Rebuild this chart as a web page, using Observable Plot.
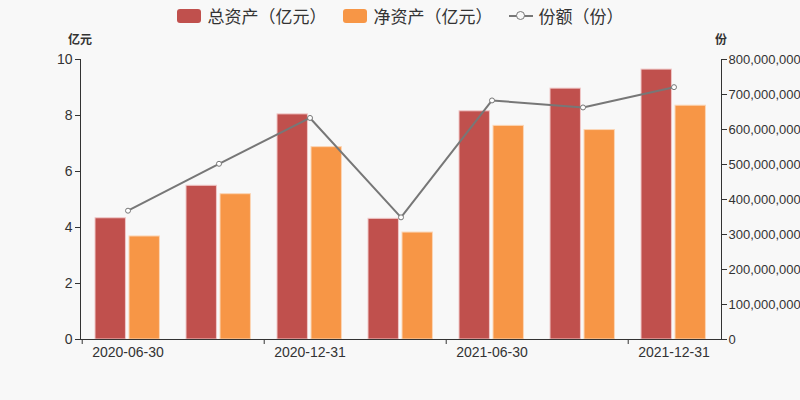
<!DOCTYPE html>
<html><head><meta charset="utf-8">
<script src="https://cdn.jsdelivr.net/npm/d3@7"></script>
<script src="https://cdn.jsdelivr.net/npm/@observablehq/plot@0.6"></script>
<style>
body{margin:0;background:#f8f8f8;}
#wrap{position:relative;width:800px;height:400px;font-family:"Liberation Sans","Noto Sans CJK SC",sans-serif;color:#333;overflow:hidden;}
#legend{position:absolute;top:3px;left:0;width:800px;display:flex;justify-content:center;align-items:center;font-family:"Noto Sans CJK SC",sans-serif;font-size:17px;color:#333;}
.item{display:flex;align-items:center;margin:0 8px;}
.sw{width:24px;height:14px;border-radius:3px;margin-right:7px;}
.ln{position:relative;width:24px;height:14px;margin-right:6px;}
.ln:before{content:"";position:absolute;left:0;right:0;top:6px;height:2px;background:#777;}
.ln:after{content:"";position:absolute;left:7px;top:2px;width:7px;height:7px;border:1.5px solid #777;border-radius:50%;background:#f8f8f8;}
.atitle{position:absolute;top:30px;font-family:"Noto Sans CJK SC",sans-serif;font-size:12px;font-weight:bold;color:#333;transform:translateX(-50%);}
svg{position:absolute;left:0;top:0;}
</style></head><body>
<div id="wrap">
<div id="legend"></div>
</div>
<script>
const dates = ["2020-06-30","2020-09-30","2020-12-31","2021-03-31","2021-06-30","2021-09-30","2021-12-31"];
const totalAssets = [4.33, 5.49, 8.04, 4.31, 8.15, 8.96, 9.64];
const netAssets = [3.68, 5.19, 6.87, 3.82, 7.63, 7.48, 8.35];
const shares = [368e6, 502e6, 633e6, 349e6, 683e6, 663e6, 721e6];
const yTicks = [0, 2, 4, 6, 8, 10];
const shareTicks = [0, 1e8, 2e8, 3e8, 4e8, 5e8, 6e8, 7e8, 8e8];
const xLabels = ["2020-06-30", "2020-12-31", "2021-06-30", "2021-12-31"];
const seriesNames = ["总资产（亿元）", "净资产（亿元）", "份额（份）"];
const colors = ["#c0504d", "#f79646", "#777777"];

const shareScale = 8e8 / 10;
const rows = dates.map((d, i) => ({date: d, total: totalAssets[i], net: netAssets[i], share: shares[i] / shareScale}));

const W = 800, H = 400, mL = 80, mR = 79, mT = 59, mB = 61;
const bw = (W - mL - mR) / dates.length;

const chart = Plot.plot({
  width: W, height: H,
  marginLeft: mL, marginRight: mR, marginTop: mT, marginBottom: mB,
  style: {background: "transparent", fontSize: "14px", color: "#333", fontFamily: "'Liberation Sans','Noto Sans CJK SC',sans-serif"},
  x: {type: "band", domain: dates, padding: 0},
  y: {domain: [0, 10]},
  marks: [
    Plot.barY(rows, {x: "date", y: "total", fill: colors[0], stroke: "#f0c8c8", strokeWidth: 1, insetLeft: 13, insetRight: bw - 44}),
    Plot.barY(rows, {x: "date", y: "net", fill: colors[1], stroke: "#fbd6b6", strokeWidth: 1, insetLeft: 47, insetRight: bw - 78}),
    Plot.line(rows, {x: "date", y: "share", stroke: colors[2], strokeWidth: 2}),
    Plot.dot(rows, {x: "date", y: "share", r: 2.5, fill: "#ffffff", stroke: colors[2], strokeWidth: 1}),
    Plot.axisY(yTicks, {anchor: "left", tickSize: 5, tickPadding: 3, stroke: "#333", label: null, fontSize: 14}),
    Plot.axisY(shareTicks.map(v => v / shareScale), {anchor: "right", tickSize: 5, tickPadding: 2, stroke: "#333", label: null, fontSize: 13, tickFormat: d => d3.format(",")(Math.round(d * shareScale))}),
    Plot.axisX(xLabels, {anchor: "bottom", tickSize: 0, tickPadding: 8, label: null, fontSize: 14}),
    Plot.axisX(xLabels, {anchor: "bottom", tickSize: 5, text: null, dx: -bw / 2, stroke: "#333", label: null}),
    Plot.frame({anchor: "left", stroke: "#333"}),
    Plot.frame({anchor: "right", stroke: "#333"}),
    Plot.ruleY([0], {stroke: "#333"})
  ]
});
const wrap = document.getElementById("wrap");
wrap.insertBefore(chart, wrap.firstChild);

const legend = document.getElementById("legend");
seriesNames.forEach((name, i) => {
  const it = document.createElement("div");
  it.className = "item";
  const sym = document.createElement("div");
  if (i < 2) { sym.className = "sw"; sym.style.background = colors[i]; }
  else { sym.className = "ln"; }
  const t = document.createElement("span");
  t.textContent = name;
  it.appendChild(sym); it.appendChild(t);
  legend.appendChild(it);
});
[["亿元", mL], ["份", W - mR]].forEach(([txt, x]) => {
  const d = document.createElement("div");
  d.className = "atitle"; d.textContent = txt; d.style.left = x + "px";
  wrap.appendChild(d);
});
</script>
</body></html>
